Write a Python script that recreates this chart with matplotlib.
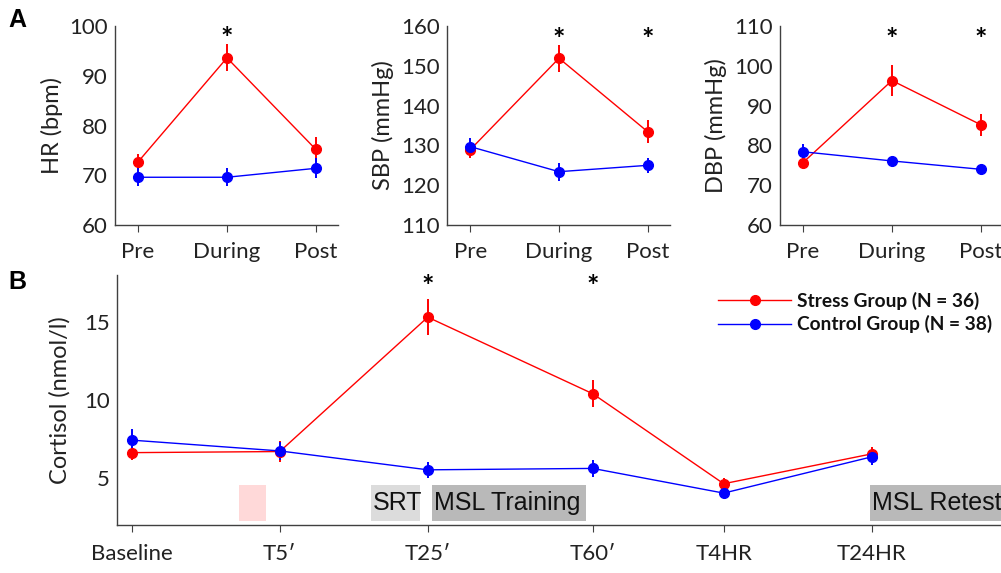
import matplotlib
matplotlib.use("Agg")
import matplotlib.pyplot as plt
import matplotlib.transforms as mtransforms
from matplotlib.lines import Line2D
from matplotlib.patches import Rectangle

plt.rcParams['font.family'] = ['Lato', 'DejaVu Sans']

# panel A data: Pre / During / Post
phases = ["Pre", "During", "Post"]

hr_stress = [72.7, 93.6, 75.2]
hr_stress_err = [1.5, 2.7, 2.5]
hr_control = [69.6, 69.6, 71.4]
hr_control_err = [1.8, 1.8, 2.0]

sbp_stress = [128.9, 151.9, 133.4]
sbp_stress_err = [2.0, 3.4, 2.9]
sbp_control = [129.7, 123.4, 125.0]
sbp_control_err = [2.2, 2.3, 1.9]

dbp_stress = [75.7, 96.3, 85.2]
dbp_stress_err = [1.3, 3.8, 2.8]
dbp_control = [78.4, 76.1, 74.0]
dbp_control_err = [1.9, 1.0, 1.0]

# panel B data: cortisol over time
times = ["Baseline", "T5\u2032", "T25\u2032", "T60\u2032", "T4HR", "T24HR"]
time_pos = [0, 1, 2, 3.115, 4, 5]
cort_stress = [6.63, 6.7, 15.3, 10.4, 4.64, 6.55]
cort_stress_err = [0.5, 0.7, 1.15, 0.87, 0.37, 0.45]
cort_control = [7.43, 6.74, 5.53, 5.62, 4.04, 6.36]
cort_control_err = [0.7, 0.6, 0.5, 0.55, 0.2, 0.5]

RED = "#ff0000"
BLUE = "#0000ff"
SPINE = "#404040"
TXT = "#222222"
TICK_FS = 16


def style_axes(ax):
    for s in ["top", "right"]:
        ax.spines[s].set_visible(False)
    for s in ["left", "bottom"]:
        ax.spines[s].set_color(SPINE)
        ax.spines[s].set_linewidth(1.0)
    ax.tick_params(axis="y", length=0, labelsize=TICK_FS, pad=5, colors=TXT)
    ax.tick_params(axis="x", length=5, direction="out", color=SPINE,
                   labelsize=TICK_FS, pad=7, labelcolor=TXT)


def draw_series(ax, x, y, err, color):
    ax.errorbar(x, y, yerr=err, color=color, marker="o", ms=7, lw=1.0,
                elinewidth=1.4, capsize=0, zorder=3)


def add_star(ax, x, y):
    # asterisk glyph sits high in its line box, nudge it down a bit
    tr = mtransforms.offset_copy(ax.transData, fig=fig, y=-7, units="dots")
    ax.text(x, y, "*", ha="center", va="center", fontsize=21,
            fontweight="bold", color="black", transform=tr)


fig = plt.figure(figsize=(10.01, 5.73), dpi=100)

panels = [
    (0.1149, "HR (bpm)", (60, 100), hr_stress, hr_stress_err, hr_control, hr_control_err, [2], 98.8),
    (0.4466, "SBP (mmHg)", (110, 160), sbp_stress, sbp_stress_err, sbp_control, sbp_control_err, [2, 3], 158.2),
    (0.7792, "DBP (mmHg)", (60, 110), dbp_stress, dbp_stress_err, dbp_control, dbp_control_err, [2, 3], 108.2),
]

x3 = [1, 2, 3]
for left, ylabel, ylim, s, se, c, ce, stars, star_y in panels:
    ax = fig.add_axes([left, 0.6073, 0.2228, 0.3473])
    draw_series(ax, x3, s, se, RED)
    draw_series(ax, x3, c, ce, BLUE)
    ax.set_xlim(0.74, 3.25)
    ax.set_ylim(*ylim)
    ax.set_yticks(range(ylim[0], ylim[1] + 1, 10))
    ax.set_xticks(x3)
    ax.set_xticklabels(phases)
    ax.set_ylabel(ylabel, fontsize=17, labelpad=5, color=TXT)
    style_axes(ax)
    for k in stars:
        add_star(ax, k, star_y)

# panel B
axb = fig.add_axes([0.1169, 0.0838, 0.8831, 0.4363])
draw_series(axb, time_pos, cort_stress, cort_stress_err, RED)
draw_series(axb, time_pos, cort_control, cort_control_err, BLUE)
axb.set_xlim(-0.1, 5.874)
axb.set_ylim(2, 18)
axb.set_yticks([5, 10, 15])
axb.set_xticks(time_pos)
axb.set_xticklabels(times)
axb.set_ylabel("Cortisol (nmol/l)", fontsize=17, labelpad=10, color=TXT)
style_axes(axb)
axb.tick_params(axis="x", pad=9)

for k in [2, 3.115]:
    add_star(axb, k, 17.7)

# task boxes
boxes = [
    (0.725, 0.182, "#ffd9d9", ""),
    (1.615, 0.333, "#dcdcdc", "SRT"),
    (2.027, 1.041, "#b9b9b9", "MSL Training"),
    (4.99, 1.0, "#b9b9b9", "MSL Retest"),
]
for x0, w, col, txt in boxes:
    axb.add_patch(Rectangle((x0, 2.23), w, 2.34, facecolor=col,
                            edgecolor="none", zorder=1))
    if txt:
        axb.text(x0 + 0.015, 3.4, txt, ha="left", va="center", fontsize=18,
                 family=["Liberation Sans", "DejaVu Sans"], color="#111111", zorder=2)

handles = [
    Line2D([], [], color=RED, marker="o", ms=7, lw=1.0),
    Line2D([], [], color=BLUE, marker="o", ms=7, lw=1.0),
]
labels = ["Stress Group (N = 36)", "Control Group (N = 38)"]
leg = axb.legend(handles, labels, loc="upper left", bbox_to_anchor=(0.708, 0.508),
                 bbox_transform=fig.transFigure, frameon=False, handlelength=3.8,
                 handletextpad=0.3, labelspacing=0.3, borderpad=0,
                 prop={"weight": "bold", "size": 13.8})
for t in leg.get_texts():
    t.set_color("#111111")

fig.text(0.017, 0.965, "A", fontsize=18, fontweight="bold", ha="center", va="center",
         family=["Liberation Sans", "DejaVu Sans"])
fig.text(0.017, 0.508, "B", fontsize=18, fontweight="bold", ha="center", va="center",
         family=["Liberation Sans", "DejaVu Sans"])

fig.savefig("out.png", dpi=100)
